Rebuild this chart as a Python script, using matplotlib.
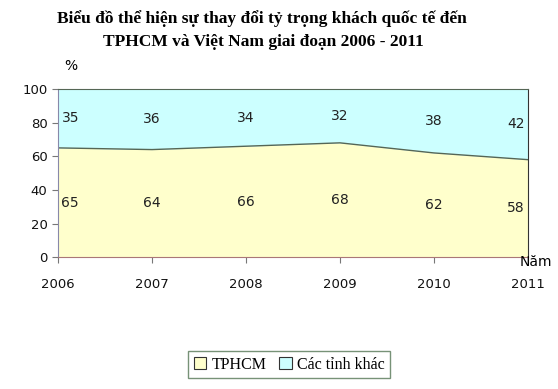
import numpy as np
import matplotlib.pyplot as plt
from matplotlib.patches import Patch

years = [2006, 2007, 2008, 2009, 2010, 2011]
tphcm = [65, 64, 66, 68, 62, 58]
khac = [35, 36, 34, 32, 38, 42]

fig = plt.figure(figsize=(5.58, 3.89), dpi=100)
ax = fig.add_axes([0.104, 0.339, 0.842, 0.432])

x = np.array(years)
y1 = np.array(tphcm)
y2 = y1 + np.array(khac)
ax.fill_between(x, 0, y1, color='#FFFFCC', lw=0)
ax.fill_between(x, y1, y2, color='#CCFFFF', lw=0)
ax.plot(x, y1, color='#556655', lw=1)

# data labels, centred in each band
for i, yr in enumerate(years):
    dx = 0
    if i == 0:
        dx = 0.13
    elif i == len(years) - 1:
        dx = -0.13
    ax.text(yr + dx, tphcm[i] / 2, str(tphcm[i]), ha='center', va='center',
            fontsize=10, family='DejaVu Sans', color='#222222')
    ax.text(yr + dx, tphcm[i] + khac[i] / 2, str(khac[i]), ha='center', va='center',
            fontsize=10, family='DejaVu Sans', color='#222222')

ax.set_xlim(2006, 2011)
ax.set_ylim(0, 100)
ax.set_xticks(years)
ax.set_yticks(range(0, 101, 20))
ax.tick_params(axis='both', labelsize=9.5, length=4, color='#777777')
ax.tick_params(axis='x', pad=11)
for lab in ax.get_xticklabels() + ax.get_yticklabels():
    lab.set_family('DejaVu Sans')
    lab.set_color('#111111')

ax.spines['left'].set_color('#8888aa')
ax.spines['bottom'].set_color('#aa7777')
ax.spines['top'].set_color('#556655')
ax.spines['right'].set_color('#333333')

fig.text(0.115, 0.82, '%', fontsize=10, family='DejaVu Sans')
fig.text(0.932, 0.315, 'Năm', fontsize=10, family='DejaVu Sans')

fig.text(0.470, 0.953, 'Biểu đồ thể hiện sự thay đổi tỷ trọng khách quốc tế đến',
         ha='center', va='center', fontsize=12.5, fontweight='bold', family='Liberation Serif')
fig.text(0.472, 0.891, 'TPHCM và Việt Nam giai đoạn 2006 - 2011',
         ha='center', va='center', fontsize=12.5, fontweight='bold', family='Liberation Serif')

handles = [Patch(facecolor='#FFFFCC', edgecolor='#333333', lw=0.8),
           Patch(facecolor='#CCFFFF', edgecolor='#333333', lw=0.8)]
leg = fig.legend(handles, ['TPHCM', 'Các tỉnh khác'], loc='center', bbox_to_anchor=(0.518, 0.062),
                 ncol=2, frameon=True, fancybox=False, handlelength=0.8, handleheight=0.8,
                 handletextpad=0.3, columnspacing=0.8, borderpad=0.35,
                 prop={'family': 'Liberation Serif', 'size': 11.5})
leg.get_frame().set_edgecolor('#557755')
leg.get_frame().set_linewidth(1)

fig.savefig('out.png', dpi=100)
